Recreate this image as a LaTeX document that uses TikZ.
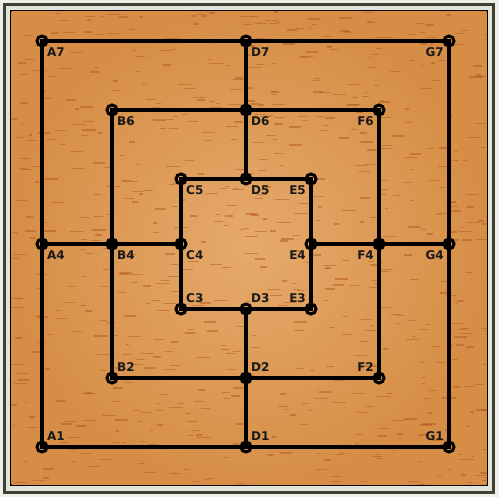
\documentclass[tikz,border=0pt]{standalone}
\usepackage{fontspec}
\newfontfamily\boardfont{DejaVu Sans}
\usetikzlibrary{positioning}

\definecolor{wood}{RGB}{214,142,70}
\definecolor{woodlight}{RGB}{230,170,108}
\definecolor{grain}{RGB}{180,86,30}
\definecolor{framedark}{RGB}{62,64,48}
\definecolor{framelight}{RGB}{226,228,218}

\tikzset{
  pt/.style={circle, draw=black, line width=3pt, minimum size=10pt, inner sep=0pt},
  lbl/.style={font=\boardfont\bfseries\fontsize{12}{12}\selectfont, text=black!90, inner sep=0pt},
  br/.style={lbl, anchor=north west, xshift=5pt, yshift=-6.5pt},
  bl/.style={lbl, anchor=north east, xshift=-5pt, yshift=-6.5pt},
  tr/.style={lbl, anchor=south west, xshift=5pt, yshift=6.5pt},
  tl/.style={lbl, anchor=south east, xshift=-5pt, yshift=6.5pt},
  board/.style={line width=3.6pt, line cap=round}
}

\begin{document}
\begin{tikzpicture}[x=1pt, y=-1pt]
    \useasboundingbox (0,0) rectangle (499,497);
    % frame
    \fill[framelight!60!white] (0,0) rectangle (499,497);
    \fill[framedark] (3,3) rectangle (495,494);
    \fill[framelight] (6,6) rectangle (492,491);
    \fill[black] (10,10) rectangle (488,486);
    % wood
    \shade[inner color=woodlight, outer color=wood] (11.5,11.5) rectangle (486.5,484.5);
    \begin{scope}
      \clip (11.5,11.5) rectangle (486.5,484.5);
      \pgfmathsetseed{11}
      \foreach \i in {1,...,700} {
        \pgfmathsetmacro{\gx}{8+480*rnd}
        \pgfmathsetmacro{\gy}{12+473*rnd}
        \pgfmathsetmacro{\gl}{3+11*rnd}
        \draw[grain, opacity=0.5, line width=1.3pt] (\gx,\gy) -- ++(\gl,0);
      }
    \end{scope}
    % points
    \foreach \n/\x/\y/\d in {A7/42/41/br, D7/246/41/br, G7/449/41/bl,
                             B6/112/110/br, D6/246/110/br, F6/379/110/bl,
                             C5/181/179/br, D5/246/179/br, E5/311/179/bl,
                             A4/42/244/br, B4/112/244/br, C4/181/244/br,
                             E4/311/244/bl, F4/379/244/bl, G4/449/244/bl,
                             C3/181/309/tr, D3/246/309/tr, E3/311/309/tl,
                             B2/112/378/tr, D2/246/378/tr, F2/379/378/tl,
                             A1/42/447/tr, D1/246/447/tr, G1/449/447/tl} {
      \coordinate (\n) at (\x,\y);
      \node[\d] (l\n) at (\n) {\n};
    }
    % lines
    \draw[board] (A7) -- (G7) -- (G1) -- (A1) -- cycle;
    \draw[board] (B6) -- (F6) -- (F2) -- (B2) -- cycle;
    \draw[board] (C5) -- (E5) -- (E3) -- (C3) -- cycle;
    \draw[board] (D7) -- (D5);
    \draw[board] (D3) -- (D1);
    \draw[board] (A4) -- (C4);
    \draw[board] (E4) -- (G4);
    % rings
    \foreach \n in {A7,D7,G7,B6,D6,F6,C5,D5,E5,A4,B4,C4,E4,F4,G4,C3,D3,E3,B2,D2,F2,A1,D1,G1}
      \node[pt] (p\n) at (\n) {};
\end{tikzpicture}
\end{document}
